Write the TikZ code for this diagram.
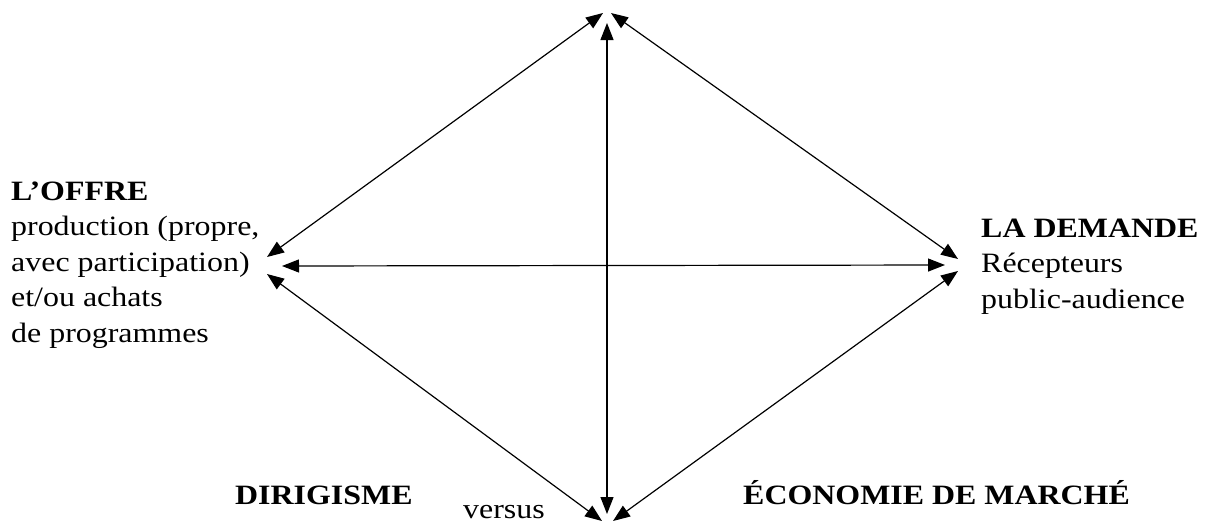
\documentclass[tikz,border=0pt]{standalone}
\usepackage{fontspec}
\setmainfont{Liberation Serif}[FakeStretch=1.14]
\usetikzlibrary{arrows.meta}
\begin{document}
\begin{tikzpicture}[x=1pt,y=-1pt,
  link/.style={line width=1.2pt,
    arrows={Triangle[length=17pt,width=13pt]-Triangle[length=17pt,width=13pt]}},
  txt/.style={anchor=base west,align=left,inner sep=0pt,font=\fontsize{28}{35.5}\selectfont}]
\useasboundingbox (0,0) rectangle (1209,523);
% end points of the connectors
\coordinate (Tl) at (603,13);
\coordinate (Tm) at (607,23);
\coordinate (Tr) at (611,13);
\coordinate (Lu) at (267,257);
\coordinate (Lm) at (282,266);
\coordinate (Ld) at (267,274);
\coordinate (Ru) at (958,259);
\coordinate (Rm) at (945,265);
\coordinate (Rd) at (958,271);
\coordinate (Bl) at (602,521);
\coordinate (Bm) at (607,514);
\coordinate (Br) at (613,521);
% connectors
\draw[link] (Lu) -- (Tl);
\draw[link] (Ru) -- (Tr);
\draw[link] (Tm) -- (Bm);
\draw[link] (Lm) -- (Rm);
\draw[link] (Ld) -- (Bl);
\draw[link] (Rd) -- (Br);
% texts (base anchor = baseline of the last line)
\node[txt] (offre) at (11,342) {\textbf{L’OFFRE}\\production (propre,\\avec participation)\\et/ou achats\\de programmes};
\node[txt] (demande) at (981,308) {\textbf{LA DEMANDE}\\Récepteurs\\public-audience};
\node[txt] (dirig) at (235,504) {\textbf{DIRIGISME}};
\node[txt] (versus) at (463,518) {versus};
\node[txt] (marche) at (743,504) {\textbf{ÉCONOMIE DE MARCHÉ}};
\end{tikzpicture}
\end{document}
